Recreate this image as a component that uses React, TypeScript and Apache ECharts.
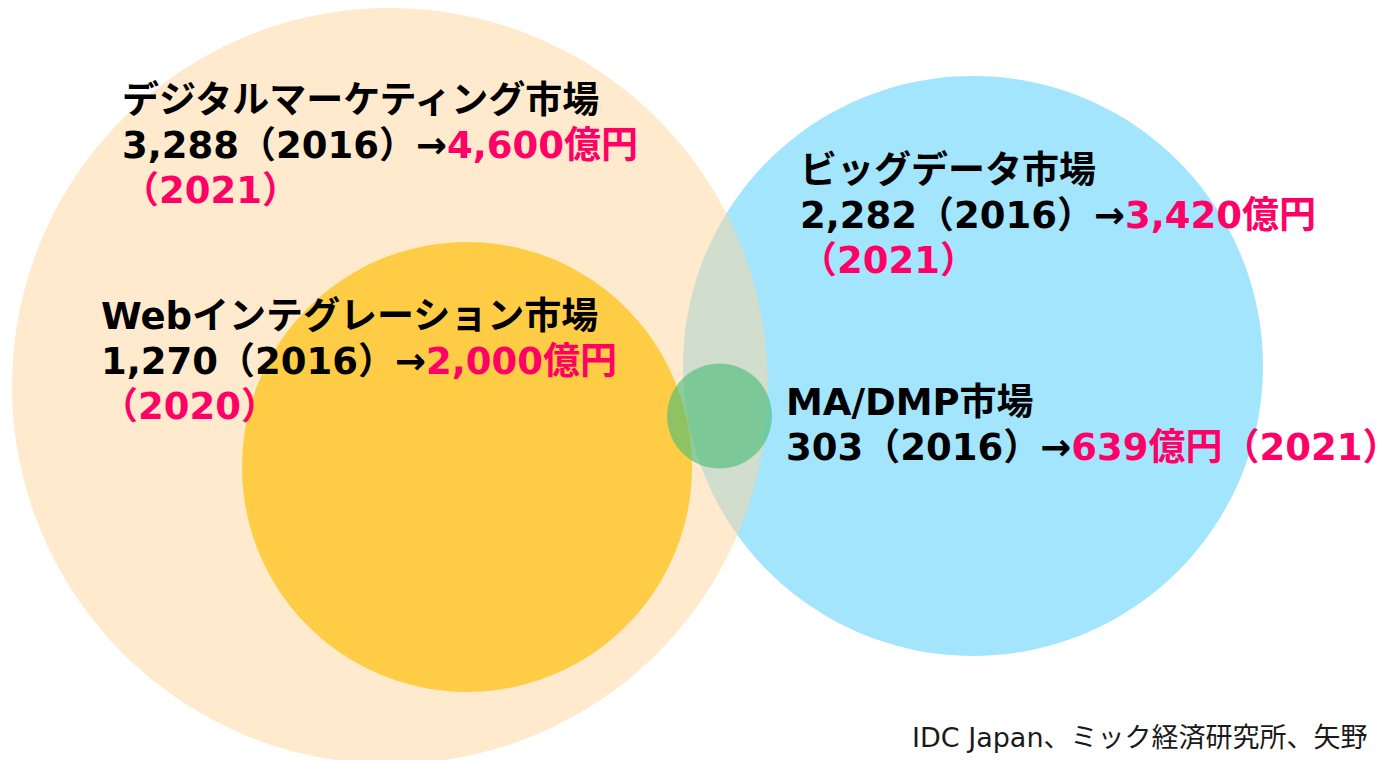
import React, { useEffect, useRef } from "react";
import * as echarts from "echarts";

// Circles (in chart units: 1 unit = 1 px of the 1381x760 canvas)
const circleNames = ["ビッグデータ市場", "デジタルマーケティング市場", "Webインテグレーション市場", "MA/DMP市場"];
const circleX = [973, 390, 467, 719.5];
const circleY = [366, 386, 467, 416];
const circleR = [290, 378, 225, 52.5];
const circleColors = ["#A3E5FD", "rgba(255,214,158,0.5)", "#FFCC45", "rgba(72,188,118,0.62)"];

// Labels
const labelTitles = ["デジタルマーケティング市場", "ビッグデータ市場", "Webインテグレーション市場", "MA/DMP市場"];
const labelBase = ["3,288（2016）→", "2,282（2016）→", "1,270（2016）→", "303（2016）→"];
const labelTarget = ["4,600億円", "3,420億円", "2,000億円", "639億円（2021）"];
const labelTargetYear = ["（2021）", "（2021）", "（2020）", ""];
const labelX = [122, 800, 101, 786];
const labelY = [78, 148, 294, 380];

const sourceText = "IDC Japan、ミック経済研究所、矢野";

const FONT = "'DejaVu Sans', 'Noto Sans CJK JP', sans-serif";
const FS = 37;

export default function App() {
  const ref = useRef<HTMLDivElement>(null);
  useEffect(() => {
    document.body.style.margin = "0";
    if (!ref.current) return;
    const chart = echarts.init(ref.current, undefined, { renderer: "svg" });
    const data = circleNames.map((n, i) => ({ name: n, value: [circleX[i], circleY[i], circleR[i]] }));
    const graphics: any[] = labelTitles.map((t, i) => {
      let txt = `{b|${t}}\n{b|${labelBase[i]}}{p|${labelTarget[i]}}`;
      if (labelTargetYear[i]) txt += `\n{p|${labelTargetYear[i]}}`;
      return {
        type: "text",
        left: labelX[i],
        top: labelY[i],
        z: 100,
        style: {
          text: txt,
          font: `bold ${FS}px ${FONT}`,
          lineHeight: 45,
          rich: {
            b: { fill: "#000000", fontSize: FS, fontWeight: "bold", fontFamily: FONT, lineHeight: 45 },
            p: { fill: "#FF0066", fontSize: FS, fontWeight: "bold", fontFamily: FONT, lineHeight: 45 },
          },
        },
      };
    });
    graphics.push({
      type: "text",
      left: 912,
      top: 724,
      z: 100,
      style: {
        text: sourceText,
        fill: "#1a1a1a",
        font: `27px ${FONT}`,
      },
    });
    chart.setOption({
      animation: false,
      grid: { left: 0, right: 0, top: 0, bottom: 0 },
      xAxis: { type: "value", min: 0, max: 1381, show: false },
      yAxis: { type: "value", min: 0, max: 760, inverse: true, show: false },
      series: [
        {
          type: "custom",
          coordinateSystem: "cartesian2d",
          data,
          clip: false,
          renderItem: (params: any, api: any) => {
            const c = api.coord([api.value(0), api.value(1)]);
            const s = api.size([api.value(2), api.value(2)]);
            return {
              type: "circle",
              shape: { cx: c[0], cy: c[1], r: Math.abs(s[0]) },
              style: { fill: circleColors[params.dataIndex] },
            };
          },
        },
      ],
      graphic: graphics,
    });
    return () => chart.dispose();
  }, []);
  return <div ref={ref} style={{ width: 1381, height: 760 }} />;
}
